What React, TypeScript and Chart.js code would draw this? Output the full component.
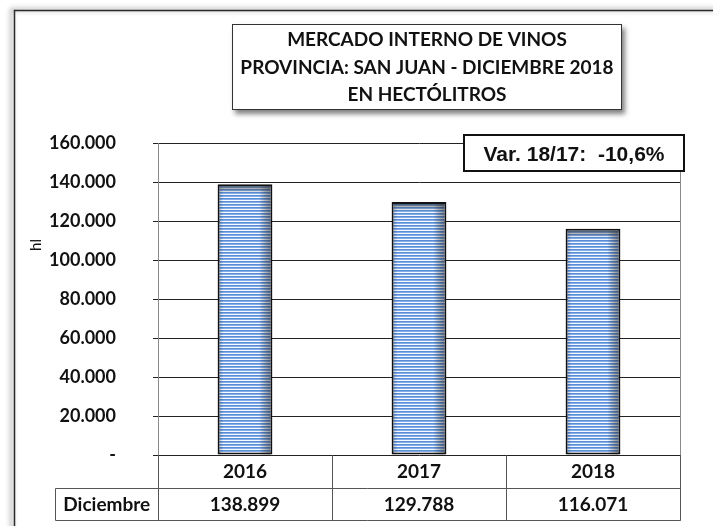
import React, { useEffect, useRef } from "react";
import { Chart, registerables } from "chart.js";

Chart.register(...registerables);

// ---- data ----
const categories = ["2016", "2017", "2018"];
const values = [138899, 129788, 116071];
const rowLabel = "Diciembre";
const titleLines = [
  "MERCADO INTERNO DE VINOS",
  "PROVINCIA: SAN JUAN - DICIEMBRE 2018",
  "EN HECTÓLITROS",
];
const varLabel = "Var. 18/17:  -10,6%";
const yAxisTitle = "hl";
const yMin = 0;
const yMax = 160000;
const yStep = 20000;

const fmt = (v: number) =>
  v === 0 ? "-" : String(Math.round(v)).replace(/\B(?=(\d{3})+(?!\d))/g, ".");

const FONT = "Lato, 'Open Sans', sans-serif";
const ARIAL = "'Liberation Sans', Arial, sans-serif";

function makePattern(ctx: CanvasRenderingContext2D) {
  const c = document.createElement("canvas");
  c.width = 4;
  c.height = 3;
  const p = c.getContext("2d")!;
  p.fillStyle = "#5a8ed8";
  p.fillRect(0, 0, 4, 1);
  p.fillStyle = "#84ace6";
  p.fillRect(0, 1, 4, 1);
  p.fillStyle = "#f6f9fe";
  p.fillRect(0, 2, 4, 1);
  return ctx.createPattern(c, "repeat")!;
}

const overlayPlugin = {
  id: "overlay",
  beforeDraw(chart: any) {
    const ctx: CanvasRenderingContext2D = chart.ctx;
    ctx.save();
    ctx.fillStyle = "#fff";
    ctx.fillRect(0, 0, chart.width, chart.height);
    // outer frame with shadow
    ctx.shadowColor = "rgba(0,0,0,0.55)";
    ctx.shadowBlur = 5;
    ctx.shadowOffsetX = -3;
    ctx.shadowOffsetY = -1;
    ctx.strokeStyle = "#2a2a2a";
    ctx.lineWidth = 1.5;
    ctx.beginPath();
    ctx.moveTo(14.5, chart.height + 20);
    ctx.lineTo(14.5, 10.5);
    ctx.lineTo(chart.width + 20, 10.5);
    ctx.stroke();
    ctx.restore();
  },
  afterDatasetsDraw(chart: any) {
    const ctx: CanvasRenderingContext2D = chart.ctx;
    const meta = chart.getDatasetMeta(0);
    ctx.save();
    meta.data.forEach((bar: any) => {
      const { x, y, base, width } = bar.getProps(["x", "y", "base", "width"], true);
      const bw = 2;
      const l = x - width / 2 + bw;
      const r = x + width / 2 - bw;
      const t = y + bw;
      const b = base;
      const g = ctx.createLinearGradient(l, 0, r, 0);
      g.addColorStop(0, "rgba(0,0,0,0.18)");
      g.addColorStop(0.08, "rgba(0,0,0,0)");
      g.addColorStop(0.78, "rgba(0,0,0,0)");
      g.addColorStop(1, "rgba(40,40,40,0.5)");
      ctx.fillStyle = g;
      ctx.fillRect(l, t, r - l, b - t);
      const gv = ctx.createLinearGradient(0, t, 0, t + 7);
      gv.addColorStop(0, "rgba(60,60,60,0.6)");
      gv.addColorStop(1, "rgba(60,60,60,0)");
      ctx.fillStyle = gv;
      ctx.fillRect(l, t, r - l, 7);
    });
    ctx.restore();
  },
  afterDraw(chart: any) {
    const ctx: CanvasRenderingContext2D = chart.ctx;
    const area = chart.chartArea;
    const xs = chart.scales.x;
    const half = (xs.getPixelForValue(1) - xs.getPixelForValue(0)) / 2;
    ctx.save();

    // right border of plot / table
    ctx.strokeStyle = "#8a8a8a";
    ctx.lineWidth = 1;
    ctx.beginPath();
    ctx.moveTo(Math.round(area.right) + 0.5, area.top);
    ctx.lineTo(Math.round(area.right) + 0.5, 521);
    ctx.stroke();

    // data table
    const row1Top = area.bottom;
    const row2Top = 488.5;
    const rowBottom = 520.5;
    const labelLeft = 55.5;
    ctx.strokeStyle = "#555";
    ctx.lineWidth = 1;
    ctx.beginPath();
    ctx.moveTo(labelLeft, row2Top);
    ctx.lineTo(area.right, row2Top);
    ctx.moveTo(labelLeft, rowBottom);
    ctx.lineTo(area.right, rowBottom);
    ctx.moveTo(labelLeft, row2Top);
    ctx.lineTo(labelLeft, rowBottom);
    for (let i = 0; i <= categories.length; i++) {
      const bx =
        i < categories.length
          ? Math.round(xs.getPixelForValue(i) - half) + 0.5
          : Math.round(area.right) + 0.5;
      ctx.moveTo(bx, row1Top);
      ctx.lineTo(bx, rowBottom);
    }
    ctx.stroke();

    ctx.fillStyle = "#111";
    ctx.textAlign = "center";
    ctx.textBaseline = "middle";
    ctx.font = `bold 19px ${FONT}`;
    categories.forEach((c, i) => {
      const cx = xs.getPixelForValue(i);
      ctx.fillText(c, cx, 472);
      ctx.fillText(fmt(values[i]), cx, 505);
    });
    ctx.fillText(rowLabel, (labelLeft + area.left) / 2, 505);

    // y axis title
    ctx.save();
    ctx.translate(36, 245);
    ctx.rotate(-Math.PI / 2);
    ctx.font = `15px ${FONT}`;
    ctx.fillText(yAxisTitle, 0, 0);
    ctx.restore();

    // title box
    ctx.save();
    ctx.shadowColor = "rgba(0,0,0,0.5)";
    ctx.shadowBlur = 5;
    ctx.shadowOffsetX = 3;
    ctx.shadowOffsetY = 4;
    ctx.fillStyle = "#fff";
    ctx.fillRect(232, 24, 390, 86);
    ctx.restore();
    ctx.strokeStyle = "#333";
    ctx.lineWidth = 1;
    ctx.strokeRect(232.5, 24.5, 389, 85);
    ctx.fillStyle = "#111";
    ctx.font = `bold 19px ${FONT}`;
    const tcx = 427;
    titleLines.forEach((ln, i) => ctx.fillText(ln, tcx, 40 + i * 27.5));

    // variation box
    ctx.fillStyle = "#fff";
    ctx.fillRect(463, 134, 222, 38);
    ctx.strokeStyle = "#111";
    ctx.lineWidth = 2;
    ctx.strokeRect(464, 135, 220, 36);
    ctx.fillStyle = "#111";
    ctx.font = `bold 21px ${ARIAL}`;
    ctx.fillText(varLabel, 574, 155);

    ctx.restore();
  },
};

export default function App() {
  const ref = useRef<HTMLCanvasElement>(null);
  useEffect(() => {
    document.body.style.margin = "0";
    const canvas = ref.current!;
    const ctx = canvas.getContext("2d")!;
    const pattern = makePattern(ctx);
    const chart = new Chart(canvas, {
      type: "bar",
      data: {
        labels: categories,
        datasets: [
          {
            label: rowLabel,
            data: values,
            backgroundColor: pattern as any,
            borderColor: "#111",
            borderWidth: 2,
            borderSkipped: false,
            categoryPercentage: 1,
            barPercentage: 0.315,
          },
        ],
      },
      options: {
        responsive: false,
        animation: false,
        layout: { padding: { left: 0, top: 143, right: 33, bottom: 71 } },
        plugins: {
          legend: { display: false },
          tooltip: { enabled: false },
          title: { display: false },
        },
        scales: {
          x: { display: false },
          y: {
            min: yMin,
            max: yMax,
            afterFit: (scale: any) => {
              scale.width = 158;
            },
            ticks: {
              stepSize: yStep,
              color: "#111",
              padding: 37,
              font: { family: FONT, size: 18, weight: "bold" },
              callback: (v: any) => fmt(Number(v)),
            },
            grid: {
              color: "#222",
              lineWidth: 1,
              tickLength: 5,
              drawTicks: true,
            },
            border: { color: "#8a8a8a", width: 1 },
          },
        },
      },
      plugins: [overlayPlugin],
    });
    return () => chart.destroy();
  }, []);
  return (
    <div style={{ width: 713, height: 526, position: "relative" }}>
      <canvas ref={ref} width={713} height={526} style={{ display: "block" }} />
    </div>
  );
}
